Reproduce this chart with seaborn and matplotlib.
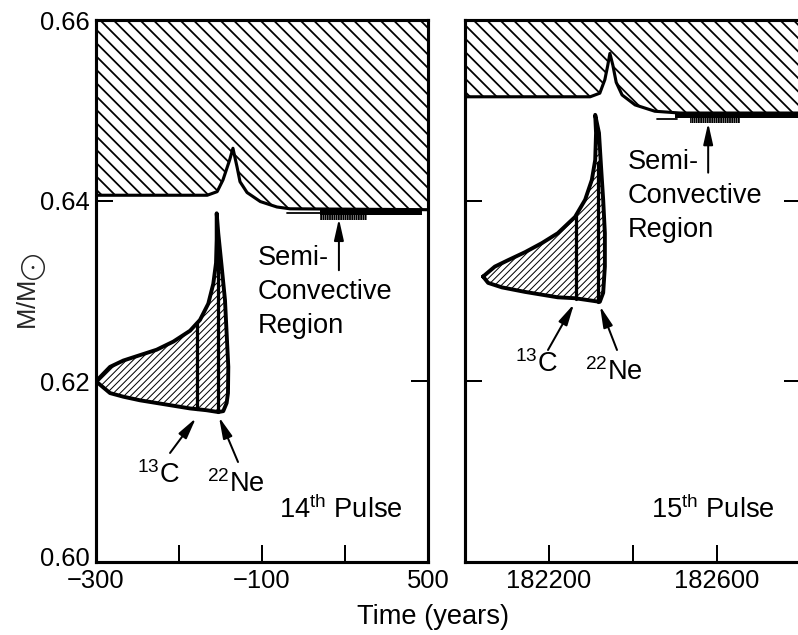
import numpy as np
import matplotlib
matplotlib.use("Agg")
import matplotlib.pyplot as plt
import matplotlib.transforms as mtransforms
from matplotlib import font_manager
import seaborn as sns

# ---------------- data: 14th thermal pulse (time in years) ----------------
p14_env_t = [-300, -166, -154, -147, -139, -135, -130, -126.5, -118, -102, -46, 1, 500]
p14_env_m = [0.6406, 0.6406, 0.6410, 0.6423, 0.6445, 0.6458, 0.6437, 0.6421,
             0.6409, 0.6399, 0.6393, 0.6391, 0.6390]

p14_pocket_top_t = [-300, -283.1, -267.1, -247.0, -226.9, -206.8, -186.7, -174.7,
                    -164.7, -158.7, -155.4, -154.6, -154.6]
p14_pocket_top_m = [0.6200, 0.6216, 0.6223, 0.6229, 0.6235, 0.6244, 0.6256, 0.6268,
                    0.6286, 0.6308, 0.6331, 0.6357, 0.6386]
p14_pocket_bot_t = [-154.6, -152.7, -148.6, -144.6, -142.6, -140.6, -141.0, -142.6,
                    -146.7, -152.7, -166.7, -186.7, -206.8, -226.9, -247.0, -267.1,
                    -283.1, -300]
p14_pocket_bot_m = [0.6386, 0.6364, 0.6327, 0.6290, 0.6253, 0.6216, 0.6187, 0.6176,
                    0.6167, 0.6166, 0.6168, 0.6170, 0.6173, 0.6176, 0.6179, 0.6183,
                    0.6187, 0.6200]
p14_c13_t = [-178, -178]
p14_c13_m = [0.6169, 0.6263]
p14_ne22_t = [-153, -153]
p14_ne22_m = [0.6166, 0.6350]

p14_semi_gap_t = [-10, 110]
p14_semi_gap_m = [0.6386, 0.6386]
p14_semi_band_t = [110, 480]
p14_semi_band_m = [0.6384, 0.6391]
p14_semi_teeth_t = [110, 280]
p14_semi_teeth_m = [0.6379, 0.6384]
p14_semi_arrow_t = 178
p14_semi_arrow_m = [0.6323, 0.6380]

# ---------------- data: 15th thermal pulse ----------------
p15_env_t = [182000, 182298, 182321, 182333, 182340, 182345, 182352, 182360,
             182374, 182405, 182452, 182512, 182800]
p15_env_m = [0.6515, 0.6515, 0.6519, 0.6534, 0.6550, 0.6563, 0.6550, 0.6531,
             0.6517, 0.6506, 0.6499, 0.6497, 0.6497]

p15_pocket_top_t = [182043, 182071, 182102, 182143, 182183, 182221, 182262, 182286,
                    182302, 182310, 182312, 182310]
p15_pocket_top_m = [0.6316, 0.6327, 0.6334, 0.6343, 0.6353, 0.6364, 0.6382, 0.6401,
                    0.6423, 0.6445, 0.6475, 0.6495]
p15_pocket_bot_t = [182310, 182319, 182324, 182329, 182333, 182333, 182329, 182321,
                    182262, 182221, 182143, 182088, 182055, 182043]
p15_pocket_bot_m = [0.6495, 0.6475, 0.6437, 0.6401, 0.6364, 0.6327, 0.6298, 0.6288,
                    0.6292, 0.6293, 0.6299, 0.6304, 0.6309, 0.6316]
p15_c13_t = [182264, 182264]
p15_c13_m = [0.6291, 0.6384]
p15_ne22_t = [182317, 182317]
p15_ne22_m = [0.6288, 0.6442]

p15_semi_gap_t = [182457, 182505]
p15_semi_gap_m = [0.6490, 0.6490]
p15_semi_band_t = [182500, 182800]
p15_semi_band_m = [0.6492, 0.6497]
p15_semi_teeth_t = [182536, 182655]
p15_semi_teeth_m = [0.6486, 0.6492]
p15_semi_arrow_t = 182579
p15_semi_arrow_m = [0.6431, 0.6486]

# ---------------- axes ----------------
mass_ticks = [0.60, 0.62, 0.64, 0.66]
mass_labels = ["0.60", "0.62", "0.64", "0.66"]
p14_ticks = [-300, -200, -100, 200, 500]
p14_labels = ["\u2212300", "", "\u2212100", "", "500"]
p15_ticks = [182000, 182200, 182400, 182600, 182800]
p15_labels = ["", "182200", "", "182600", ""]

DPI = 80
installed = {f.name for f in font_manager.fontManager.ttflist}
if "Liberation Sans Narrow" in installed:
    FONT, TICK_FS, TEXT_FS = "Liberation Sans Narrow", 26, 28
else:
    FONT, TICK_FS, TEXT_FS = "Liberation Sans", 23, 24.5

sns.set_theme(style="ticks")
plt.rcParams.update({
    "font.family": [FONT, "DejaVu Sans"],
    "mathtext.fontset": "custom",
    "mathtext.rm": FONT,
    "mathtext.it": FONT + ":italic",
    "mathtext.bf": FONT + ":bold",
    "hatch.color": "black",
    "hatch.linewidth": 1.5,
    "text.color": "black",
    "axes.edgecolor": "black",
})


def fwd(t):
    t = np.asarray(t, dtype=float)
    return np.where(t <= -100, (t + 300) / 400.0, 0.5 + (t + 100) / 1200.0)


def inv(u):
    u = np.asarray(u, dtype=float)
    return np.where(u <= 0.5, u * 400.0 - 300, (u - 0.5) * 1200.0 - 100)


fig = plt.figure(figsize=(798 / DPI, 635 / DPI), dpi=DPI)
ax14 = fig.add_axes([96 / 798, 73 / 635, 332 / 798, 542 / 635])
ax15 = fig.add_axes([465 / 798, 73 / 635, 336 / 798, 542 / 635])
ax14.set_xscale("function", functions=(fwd, inv))

arrow_kw = dict(arrowstyle="-|>,head_length=0.8,head_width=0.18", color="black",
                lw=1.8, shrinkA=0, shrinkB=0, mutation_scale=20)


def draw_pulse(ax, env_t, env_m, top_t, top_m, bot_t, bot_m, c13, ne22,
               gap, band, teeth, arrow_t, arrow_m):
    # hatched convective envelope
    env = ax.fill_between(env_t, env_m, 0.66, facecolor="white", edgecolor="black",
                          hatch="\\\\", linewidth=0, zorder=1)
    if hasattr(env, "set_hatch_linewidth"):
        env.set_hatch_linewidth(1.6)
    sns.lineplot(x=env_t, y=env_m, sort=False, estimator=None, color="black",
                 linewidth=2.8, ax=ax, zorder=3)

    # 13C / 22Ne burning pocket
    poly_t = list(top_t) + list(bot_t)
    poly_m = list(top_m) + list(bot_m)
    for p in ax.fill(poly_t, poly_m, facecolor="white", edgecolor="black",
                     hatch="////", linewidth=0, zorder=1):
        if hasattr(p, "set_hatch_linewidth"):
            p.set_hatch_linewidth(0.9)
    sns.lineplot(x=poly_t, y=poly_m, sort=False, estimator=None, color="black",
                 linewidth=3.5, ax=ax, zorder=3)
    for (lt, lm) in (c13, ne22):
        sns.lineplot(x=lt, y=lm, sort=False, estimator=None, color="black",
                     linewidth=2.9, ax=ax, zorder=3)
    for l in ax.get_lines():
        l.set_solid_joinstyle("round")
        l.set_solid_capstyle("round")

    # semi-convective region below the envelope
    ax.plot(gap[0], gap[1], color="black", linewidth=1.6, zorder=3)
    ax.fill_between(band[0], band[1][0], band[1][1], color="black", linewidth=0, zorder=3)
    teeth_poly = ax.fill_between(teeth[0], teeth[1][0], teeth[1][1], facecolor="none",
                                 edgecolor="black", hatch="||||||", linewidth=0, zorder=3)
    if hasattr(teeth_poly, "set_hatch_linewidth"):
        teeth_poly.set_hatch_linewidth(1.6)
    ax.annotate("", xy=(arrow_t, arrow_m[1]), xytext=(arrow_t, arrow_m[0]),
                arrowprops=arrow_kw, zorder=4)


draw_pulse(ax14, p14_env_t, p14_env_m, p14_pocket_top_t, p14_pocket_top_m,
           p14_pocket_bot_t, p14_pocket_bot_m, (p14_c13_t, p14_c13_m),
           (p14_ne22_t, p14_ne22_m), (p14_semi_gap_t, p14_semi_gap_m),
           (p14_semi_band_t, p14_semi_band_m), (p14_semi_teeth_t, p14_semi_teeth_m),
           p14_semi_arrow_t, p14_semi_arrow_m)
draw_pulse(ax15, p15_env_t, p15_env_m, p15_pocket_top_t, p15_pocket_top_m,
           p15_pocket_bot_t, p15_pocket_bot_m, (p15_c13_t, p15_c13_m),
           (p15_ne22_t, p15_ne22_m), (p15_semi_gap_t, p15_semi_gap_m),
           (p15_semi_band_t, p15_semi_band_m), (p15_semi_teeth_t, p15_semi_teeth_m),
           p15_semi_arrow_t, p15_semi_arrow_m)

# labels, 14th pulse (multi-line text is anchored at the baseline of its last line)
ax14.text(-105, 0.62535, "Semi-\nConvective\nRegion", fontsize=TEXT_FS,
          ha="left", va="baseline", linespacing=1.4, zorder=5)
ax14.text(-225, 0.60875, r"$^{13}$C", fontsize=TEXT_FS, ha="center", va="baseline")
ax14.text(-132, 0.60775, r"$^{22}$Ne", fontsize=TEXT_FS, ha="center", va="baseline")
ax14.text(185, 0.60487, r"14$^{\mathrm{th}}$ Pulse", fontsize=TEXT_FS, ha="center", va="baseline")
ax14.annotate("", xy=(-179.5, 0.61594), xytext=(-210.8, 0.61207), arrowprops=arrow_kw)
ax14.annotate("", xy=(-151.8, 0.61605), xytext=(-128.9, 0.61107), arrowprops=arrow_kw)

# labels, 15th pulse
ax15.text(182388, 0.63598, "Semi-\nConvective\nRegion", fontsize=TEXT_FS,
          ha="left", va="baseline", linespacing=1.4, zorder=5)
ax15.text(182171, 0.62103, r"$^{13}$C", fontsize=TEXT_FS, ha="center", va="baseline")
ax15.text(182355, 0.62015, r"$^{22}$Ne", fontsize=TEXT_FS, ha="center", va="baseline")
ax15.text(182590, 0.60487, r"15$^{\mathrm{th}}$ Pulse", fontsize=TEXT_FS, ha="center", va="baseline")
ax15.annotate("", xy=(182259.5, 0.62856), xytext=(182197.6, 0.62347), arrowprops=arrow_kw)
ax15.annotate("", xy=(182321.4, 0.62834), xytext=(182361.9, 0.62347), arrowprops=arrow_kw)

for ax, ticks, labels, lim in ((ax14, p14_ticks, p14_labels, (-300, 500)),
                               (ax15, p15_ticks, p15_labels, (182000, 182800))):
    ax.set_xlim(*lim)
    ax.set_ylim(0.60, 0.66)
    ax.set_xticks(ticks)
    ax.set_xticklabels(labels)
    ax.set_yticks(mass_ticks)
    ax.set_yticklabels(mass_labels)
    ax.set_xlabel("")
    ax.set_ylabel("")
    ax.tick_params(direction="in", length=15, width=1.8, top=True, right=True,
                   labelsize=TICK_FS, pad=6, colors="black")
    for s in ax.spines.values():
        s.set_visible(True)
        s.set_linewidth(2.8)
        s.set_color("black")
    ax.set_facecolor("white")

ax15.tick_params(labelleft=False)
ax14.set_ylabel(r"M/M$_{\bigodot}$", fontsize=TICK_FS, va="center")
ax14.yaxis.set_label_coords(-0.196, 0.5)
fig.text(433 / 798, 1 - 624 / 635, "Time (years)", fontsize=TEXT_FS, ha="center", va="baseline")

# lift the lowest mass label a little so it clears the time labels
low = ax14.yaxis.get_major_ticks()[0].label1
low.set_transform(low.get_transform()
                  + mtransforms.ScaledTranslation(0, 6 / DPI, fig.dpi_scale_trans))

fig.savefig("out.png", dpi=DPI, facecolor="white")
